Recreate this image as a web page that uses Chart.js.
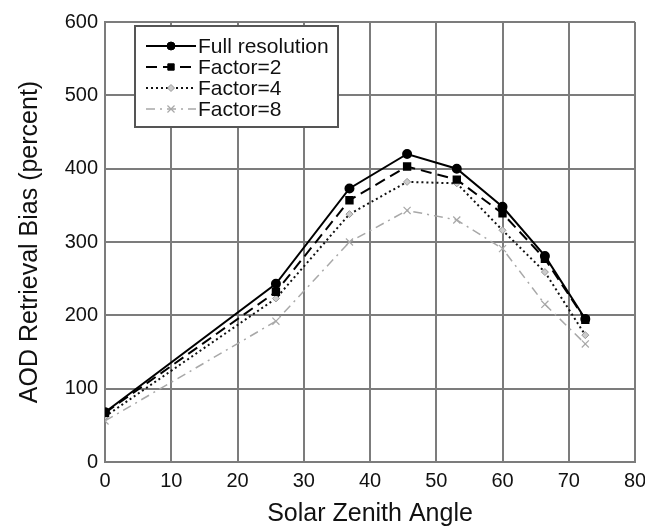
<!DOCTYPE html>
<html>
<head>
<meta charset="utf-8">
<script src="https://cdn.jsdelivr.net/npm/chart.js@4/dist/chart.umd.min.js"></script>
<style>
  html, body { margin: 0; padding: 0; background: #fff; }
  canvas { display: block; }
</style>
</head>
<body>
<canvas id="chart" width="645" height="529"></canvas>
<script>
// Solar zenith angles (degrees) and retrieval bias per resolution factor
const zenithAngles = [0, 25.8, 36.9, 45.6, 53.1, 60, 66.4, 72.5];
const fullResolution = [68, 243, 373, 420, 400, 348, 281, 195];
const factor2 = [67, 232, 357, 403, 385, 339, 277, 194];
const factor4 = [62, 223, 338, 382, 380, 316, 259, 173];
const factor8 = [56, 192, 300, 343, 330, 291, 215, 161];

const xTicks = [0, 10, 20, 30, 40, 50, 60, 70, 80];
const yTicks = [0, 100, 200, 300, 400, 500, 600];

const FONT = "'Liberation Sans', Arial, sans-serif";
const GRID = "#7c7c7c";

const toPoints = (values) => values.map((y, i) => ({ x: zenithAngles[i], y }));

const datasets = [
  {
    label: "Full resolution",
    data: toPoints(fullResolution),
    borderColor: "#000",
    backgroundColor: "#000",
    borderWidth: 2,
    pointStyle: "circle",
    pointRadius: 4,
    order: 1,
  },
  {
    label: "Factor=2",
    data: toPoints(factor2),
    borderColor: "#000",
    backgroundColor: "#000",
    borderWidth: 2,
    borderDash: [11, 6],
    pointStyle: "rect",
    pointRadius: 4.5,
    order: 0,
  },
  {
    label: "Factor=4",
    data: toPoints(factor4),
    borderColor: "#111",
    backgroundColor: "#ccc",
    borderWidth: 2,
    borderDash: [2, 3],
    pointStyle: "rectRot",
    pointRadius: 3.5,
    pointBorderColor: "#999",
    pointBorderWidth: 1,
    order: 2,
  },
  {
    label: "Factor=8",
    data: toPoints(factor8),
    borderColor: "#a8a8a8",
    backgroundColor: "#a8a8a8",
    borderWidth: 1.5,
    borderDash: [9, 5, 2, 5],
    pointStyle: "crossRot",
    pointRadius: 5,
    pointBorderWidth: 1.2,
    order: 3,
  },
];

// Boxed legend drawn inside the plot, with a line sample and marker per series
const boxLegend = {
  id: "boxLegend",
  afterDraw(chart) {
    const ctx = chart.ctx;
    const left = 135, top = 26, width = 203, height = 101;
    ctx.save();
    ctx.fillStyle = "#fff";
    ctx.fillRect(left, top, width, height);
    ctx.strokeStyle = "#555";
    ctx.lineWidth = 2;
    ctx.strokeRect(left, top, width, height);

    chart.data.datasets.forEach((ds, i) => {
      const y = 46 + i * 21;
      ctx.save();
      ctx.strokeStyle = ds.borderColor;
      ctx.lineWidth = ds.borderWidth;
      ctx.setLineDash(ds.borderDash || []);
      ctx.beginPath();
      ctx.moveTo(146, y);
      ctx.lineTo(196, y);
      ctx.stroke();
      ctx.restore();

      ctx.save();
      ctx.setLineDash([]);
      ctx.fillStyle = ds.backgroundColor;
      ctx.strokeStyle = ds.pointBorderColor || ds.borderColor;
      ctx.lineWidth = ds.pointBorderWidth || 1;
      Chart.helpers.drawPoint(ctx, {
        pointStyle: ds.pointStyle,
        radius: ds.pointRadius,
        rotation: 0,
        borderWidth: ds.pointBorderWidth || 1,
      }, 171, y);
      ctx.restore();

      ctx.fillStyle = "#111";
      ctx.font = "21px " + FONT;
      ctx.textBaseline = "middle";
      ctx.textAlign = "left";
      ctx.fillText(ds.label, 198, y + 1);
    });
    ctx.restore();
  },
};

new Chart(document.getElementById("chart"), {
  type: "line",
  data: { datasets },
  options: {
    responsive: false,
    animation: false,
    layout: { padding: { top: 22, right: 10, left: 0, bottom: 0 } },
    plugins: {
      legend: { display: false },
      tooltip: { enabled: false },
    },
    elements: { line: { tension: 0 } },
    scales: {
      x: {
        type: "linear",
        min: 0,
        max: 80,
        afterBuildTicks: (scale) => { scale.ticks = xTicks.map((v) => ({ value: v })); },
        afterFit: (scale) => {
          scale.height = 67;
          scale.paddingLeft = 0;
          scale.paddingRight = 0;
        },
        grid: { color: GRID, lineWidth: 2, drawTicks: false },
        border: { color: GRID, width: 2 },
        ticks: { color: "#111", font: { family: FONT, size: 20 }, padding: 7 },
        title: {
          display: true,
          text: "Solar Zenith Angle",
          color: "#111",
          font: { family: FONT, size: 25 },
          padding: { top: 4, bottom: 0 },
        },
      },
      y: {
        type: "linear",
        min: 0,
        max: 600,
        afterBuildTicks: (scale) => { scale.ticks = yTicks.map((v) => ({ value: v })); },
        afterFit: (scale) => {
          scale.width = 105;
          scale.paddingTop = 0;
          scale.paddingBottom = 0;
        },
        grid: { color: GRID, lineWidth: 2, drawTicks: false },
        border: { color: GRID, width: 2 },
        ticks: { color: "#111", font: { family: FONT, size: 20 }, padding: 7 },
        title: {
          display: true,
          text: "AOD Retrieval Bias (percent)",
          color: "#111",
          font: { family: FONT, size: 25 },
          padding: { top: 15, bottom: 4 },
        },
      },
    },
  },
  plugins: [boxLegend],
});
</script>
</body>
</html>
